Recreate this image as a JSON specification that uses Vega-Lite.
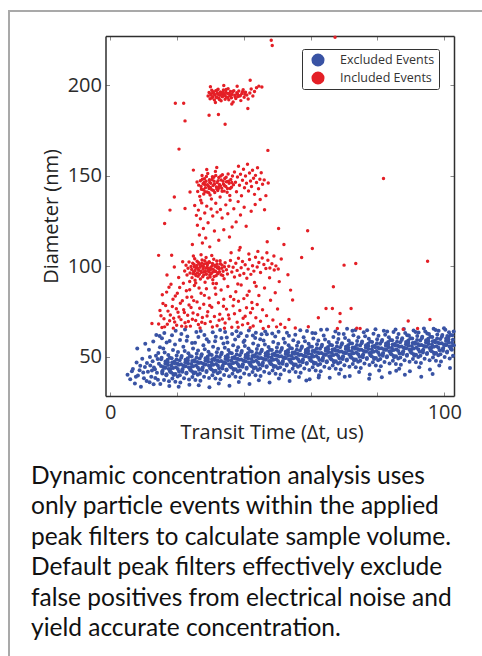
{
"$schema":"https://vega.github.io/schema/vega-lite/v6.json",
"width":480,"height":650,
"autosize":"none",
"padding":{"left":9,"top":11,"right":0,"bottom":0},
"background":"white",
"config":{
"view":{"stroke":"#a9a9a9","strokeWidth":2,"fill":"white"},
"font":"Open Sans",
"axis":{"grid":false,"domainColor":"#2e2e2e","domainWidth":1.5,"tickColor":"#8a8a8a","tickWidth":1,"tickSize":-4,"labelFont":"Open Sans","labelFontSize":20,"labelColor":"#2b2b2b","titleFont":"Open Sans","titleFontSize":20,"titleFontWeight":"normal","titleColor":"#222222","labelFlush":false,"labelOverlap":false}
},
"title":{"text":["Dynamic concentration analysis uses","only particle events within the applied","peak filters to calculate sample volume.","Default peak filters effectively exclude","false positives from electrical noise and","yield accurate concentration."],"orient":"bottom","anchor":"start","frame":"group","font":"Lato","fontSize":24.5,"fontWeight":"normal","color":"#111111","lineHeight":30.4,"offset":0,"dx":22,"dy":-196},
"datasets":{
"excluded":[
{"t":5.2,"d":40.1},{"t":6.0,"d":37.5},{"t":6.5,"d":42.0},{"t":6.8,"d":43.2},{"t":7.4,"d":35.2},{"t":7.7,"d":38.9},{"t":7.9,"d":46.8},{"t":8.1,"d":54.6},{"t":8.3,"d":39.6},{"t":8.8,"d":42.5},{"t":9.0,"d":45.0},{"t":9.2,"d":33.4},{"t":9.6,"d":48.9},{"t":9.9,"d":41.3},{"t":10.1,"d":38.1},{"t":10.4,"d":44.3},{"t":10.5,"d":57.1},{"t":10.9,"d":36.6},{"t":11.0,"d":46.5},{"t":11.3,"d":41.7},{"t":11.6,"d":53.8},{"t":11.8,"d":35.9},{"t":11.9,"d":49.8},{"t":12.0,"d":45.2},{"t":12.3,"d":39.0},{"t":12.5,"d":42.4},{"t":12.7,"d":47.5},{"t":12.9,"d":58.4},{"t":13.0,"d":34.8},{"t":13.1,"d":44.0},{"t":13.4,"d":43.1},{"t":13.5,"d":38.2},{"t":13.7,"d":50.6},{"t":13.8,"d":62.0},{"t":14.0,"d":41.2},{"t":14.2,"d":48.7},{"t":14.3,"d":37.3},{"t":14.4,"d":52.0},{"t":14.6,"d":46.1},{"t":14.8,"d":61.4},{"t":14.9,"d":55.2},
{"t":15.4,"d":49.5},{"t":15.7,"d":42.3},{"t":15.0,"d":34.9},{"t":15.2,"d":44.9},{"t":15.9,"d":54.6},{"t":15.6,"d":40.8},{"t":15.5,"d":60.2},
{"t":16.8,"d":39.8},{"t":16.3,"d":52.3},{"t":16.5,"d":46.1},{"t":16.1,"d":37.2},{"t":16.6,"d":43.9},{"t":16.9,"d":57.9},{"t":16.2,"d":63.1},
{"t":17.3,"d":45.4},{"t":17.9,"d":41.9},{"t":17.2,"d":48.3},{"t":17.6,"d":36.5},{"t":17.4,"d":51.0},{"t":17.7,"d":33.8},{"t":17.8,"d":58.7},
{"t":18.1,"d":43.2},{"t":18.4,"d":49.2},{"t":18.6,"d":37.9},{"t":18.8,"d":53.7},{"t":18.3,"d":45.1},{"t":18.9,"d":40.5},{"t":18.5,"d":61.8},
{"t":19.2,"d":47.2},{"t":19.5,"d":36.2},{"t":19.9,"d":50.7},{"t":19.7,"d":44.2},{"t":19.0,"d":39.9},{"t":19.4,"d":56.8},{"t":19.6,"d":64.4},
{"t":20.6,"d":41.9},{"t":20.1,"d":46.2},{"t":20.3,"d":52.6},{"t":20.5,"d":33.4},{"t":20.8,"d":48.1},{"t":20.2,"d":39.1},{"t":20.9,"d":59.3},
{"t":21.4,"d":50.4},{"t":21.7,"d":43.2},{"t":21.0,"d":35.8},{"t":21.2,"d":45.8},{"t":21.9,"d":55.5},{"t":21.6,"d":41.7},{"t":21.3,"d":62.5},
{"t":22.8,"d":40.7},{"t":22.3,"d":53.2},{"t":22.5,"d":47.0},{"t":22.1,"d":38.1},{"t":22.6,"d":44.8},{"t":22.9,"d":58.8},{"t":22.4,"d":65.0},
{"t":23.3,"d":46.3},{"t":23.9,"d":42.8},{"t":23.2,"d":49.2},{"t":23.6,"d":37.4},{"t":23.4,"d":51.9},{"t":23.7,"d":34.5},{"t":23.1,"d":61.2},
{"t":24.1,"d":44.1},{"t":24.4,"d":50.1},{"t":24.6,"d":38.8},{"t":24.8,"d":54.6},{"t":24.3,"d":46.0},{"t":24.9,"d":41.4},{"t":24.5,"d":57.6},
{"t":25.2,"d":48.1},{"t":25.5,"d":37.1},{"t":25.9,"d":51.6},{"t":25.7,"d":45.1},{"t":25.0,"d":40.8},{"t":25.4,"d":57.7},{"t":25.8,"d":63.6},
{"t":26.6,"d":42.8},{"t":26.1,"d":47.1},{"t":26.3,"d":53.5},{"t":26.5,"d":34.3},{"t":26.8,"d":49.0},{"t":26.2,"d":40.0},{"t":26.4,"d":60.9},
{"t":27.4,"d":51.3},{"t":27.7,"d":44.1},{"t":27.0,"d":36.7},{"t":27.2,"d":46.7},{"t":27.9,"d":56.4},{"t":27.6,"d":42.6},{"t":27.1,"d":64.2},
{"t":28.8,"d":41.6},{"t":28.3,"d":54.1},{"t":28.5,"d":47.9},{"t":28.1,"d":39.0},{"t":28.6,"d":45.7},{"t":28.9,"d":59.7},{"t":28.2,"d":62.0},
{"t":29.3,"d":47.2},{"t":29.9,"d":43.7},{"t":29.2,"d":50.1},{"t":29.6,"d":38.3},{"t":29.4,"d":52.8},{"t":29.7,"d":33.1},{"t":29.5,"d":58.3},
{"t":30.1,"d":45.0},{"t":30.4,"d":51.0},{"t":30.6,"d":39.7},{"t":30.8,"d":55.5},{"t":30.3,"d":46.9},{"t":30.9,"d":42.3},{"t":30.7,"d":63.5},
{"t":31.2,"d":49.0},{"t":31.5,"d":38.0},{"t":31.9,"d":52.5},{"t":31.7,"d":46.0},{"t":31.0,"d":41.7},{"t":31.4,"d":58.6},{"t":31.6,"d":61.1},
{"t":32.6,"d":43.7},{"t":32.1,"d":48.0},{"t":32.3,"d":54.4},{"t":32.5,"d":35.2},{"t":32.8,"d":49.9},{"t":32.2,"d":40.9},{"t":32.9,"d":64.8},
{"t":33.4,"d":52.2},{"t":33.7,"d":45.0},{"t":33.0,"d":37.6},{"t":33.2,"d":47.6},{"t":33.9,"d":57.3},{"t":33.6,"d":43.5},{"t":33.3,"d":60.4},
{"t":34.8,"d":42.5},{"t":34.3,"d":55.0},{"t":34.5,"d":48.8},{"t":34.1,"d":39.9},{"t":34.6,"d":46.6},{"t":34.9,"d":60.6},{"t":34.4,"d":63.7},
{"t":35.3,"d":48.1},{"t":35.9,"d":44.6},{"t":35.2,"d":51.0},{"t":35.6,"d":39.2},{"t":35.4,"d":53.7},{"t":35.7,"d":34.0},{"t":35.1,"d":57.9},
{"t":36.1,"d":45.9},{"t":36.4,"d":51.9},{"t":36.6,"d":40.6},{"t":36.8,"d":56.4},{"t":36.3,"d":47.8},{"t":36.9,"d":43.2},{"t":36.5,"d":62.6},
{"t":37.2,"d":49.9},{"t":37.5,"d":38.9},{"t":37.9,"d":53.4},{"t":37.7,"d":46.9},{"t":37.0,"d":42.6},{"t":37.4,"d":59.5},{"t":37.8,"d":64.1},
{"t":38.6,"d":44.6},{"t":38.1,"d":48.9},{"t":38.3,"d":55.3},{"t":38.5,"d":36.1},{"t":38.8,"d":50.8},{"t":38.2,"d":41.8},{"t":38.4,"d":61.3},
{"t":39.4,"d":53.1},{"t":39.7,"d":45.9},{"t":39.0,"d":38.5},{"t":39.2,"d":48.5},{"t":39.9,"d":58.2},{"t":39.6,"d":44.4},{"t":39.1,"d":63.0},
{"t":40.8,"d":43.4},{"t":40.3,"d":55.9},{"t":40.5,"d":49.7},{"t":40.1,"d":40.8},{"t":40.6,"d":47.5},{"t":40.9,"d":61.5},{"t":40.2,"d":58.9},
{"t":41.3,"d":49.0},{"t":41.9,"d":45.5},{"t":41.2,"d":51.9},{"t":41.6,"d":40.1},{"t":41.4,"d":54.6},{"t":41.7,"d":34.9},{"t":41.5,"d":64.5},
{"t":42.1,"d":46.8},{"t":42.4,"d":52.8},{"t":42.6,"d":41.5},{"t":42.8,"d":57.3},{"t":42.3,"d":48.7},{"t":42.9,"d":44.1},{"t":42.7,"d":61.7},
{"t":43.2,"d":50.8},{"t":43.5,"d":39.8},{"t":43.9,"d":54.3},{"t":43.7,"d":47.8},{"t":43.0,"d":43.5},{"t":43.4,"d":60.4},{"t":43.6,"d":63.2},
{"t":44.6,"d":45.5},{"t":44.1,"d":49.8},{"t":44.3,"d":56.2},{"t":44.5,"d":37.0},{"t":44.8,"d":51.7},{"t":44.2,"d":42.7},{"t":44.9,"d":59.6},
{"t":45.4,"d":53.9},{"t":45.7,"d":46.7},{"t":45.0,"d":39.3},{"t":45.2,"d":49.3},{"t":45.9,"d":59.0},{"t":45.6,"d":45.2},{"t":45.3,"d":62.4},
{"t":46.8,"d":44.3},{"t":46.3,"d":56.8},{"t":46.5,"d":50.6},{"t":46.1,"d":41.7},{"t":46.6,"d":48.4},{"t":46.9,"d":62.4},{"t":46.4,"d":64.0},
{"t":47.3,"d":49.8},{"t":47.9,"d":46.3},{"t":47.2,"d":52.7},{"t":47.6,"d":40.9},{"t":47.4,"d":55.4},{"t":47.7,"d":35.7},
{"t":48.1,"d":47.7},{"t":48.4,"d":53.7},{"t":48.6,"d":42.4},{"t":48.8,"d":58.2},{"t":48.3,"d":49.6},{"t":48.9,"d":45.0},{"t":48.5,"d":62.9},
{"t":49.2,"d":51.6},{"t":49.5,"d":40.6},{"t":49.9,"d":55.1},{"t":49.7,"d":48.6},{"t":49.0,"d":44.3},{"t":49.4,"d":61.2},
{"t":50.6,"d":46.4},{"t":50.1,"d":50.7},{"t":50.3,"d":57.1},{"t":50.5,"d":37.9},{"t":50.8,"d":52.6},{"t":50.2,"d":43.6},{"t":50.4,"d":63.8},
{"t":51.4,"d":54.8},{"t":51.7,"d":47.6},{"t":51.0,"d":40.2},{"t":51.2,"d":50.2},{"t":51.9,"d":59.9},{"t":51.6,"d":46.1},
{"t":52.8,"d":45.2},{"t":52.3,"d":57.7},{"t":52.5,"d":51.5},{"t":52.1,"d":42.6},{"t":52.6,"d":49.3},{"t":52.9,"d":63.3},
{"t":53.3,"d":50.7},{"t":53.9,"d":47.2},{"t":53.2,"d":53.6},{"t":53.6,"d":41.8},{"t":53.4,"d":56.3},{"t":53.7,"d":36.6},{"t":53.5,"d":61.6},
{"t":54.1,"d":48.6},{"t":54.4,"d":54.6},{"t":54.6,"d":43.3},{"t":54.8,"d":59.1},{"t":54.3,"d":50.5},{"t":54.9,"d":45.9},
{"t":55.2,"d":52.5},{"t":55.5,"d":41.5},{"t":55.9,"d":56.0},{"t":55.7,"d":49.5},{"t":55.0,"d":45.2},{"t":55.4,"d":62.1},
{"t":56.6,"d":47.3},{"t":56.1,"d":51.6},{"t":56.3,"d":58.0},{"t":56.5,"d":38.8},{"t":56.8,"d":53.5},{"t":56.2,"d":44.5},{"t":56.9,"d":64.6},
{"t":57.4,"d":55.7},{"t":57.7,"d":48.5},{"t":57.0,"d":41.1},{"t":57.2,"d":51.1},{"t":57.9,"d":60.8},{"t":57.6,"d":47.0},
{"t":58.8,"d":46.1},{"t":58.3,"d":58.6},{"t":58.5,"d":52.4},{"t":58.1,"d":43.5},{"t":58.6,"d":50.2},{"t":58.9,"d":64.2},{"t":58.7,"d":36.9},
{"t":59.3,"d":51.6},{"t":59.9,"d":48.1},{"t":59.2,"d":54.5},{"t":59.6,"d":42.7},{"t":59.4,"d":57.2},{"t":59.7,"d":37.5},
{"t":60.1,"d":49.5},{"t":60.4,"d":55.5},{"t":60.6,"d":44.2},{"t":60.8,"d":60.0},{"t":60.3,"d":51.4},{"t":60.9,"d":46.8},{"t":60.5,"d":63.1},
{"t":61.2,"d":53.4},{"t":61.5,"d":42.4},{"t":61.9,"d":56.9},{"t":61.7,"d":50.4},{"t":61.0,"d":46.1},{"t":61.4,"d":63.0},
{"t":62.6,"d":48.2},{"t":62.1,"d":52.5},{"t":62.3,"d":58.9},{"t":62.5,"d":39.7},{"t":62.8,"d":54.4},{"t":62.2,"d":45.4},{"t":62.4,"d":38.5},
{"t":63.4,"d":56.6},{"t":63.7,"d":49.4},{"t":63.0,"d":42.0},{"t":63.2,"d":52.0},{"t":63.9,"d":61.7},{"t":63.6,"d":47.9},{"t":63.1,"d":64.9},
{"t":64.8,"d":47.0},{"t":64.3,"d":59.5},{"t":64.5,"d":53.3},{"t":64.1,"d":44.4},{"t":64.6,"d":51.1},{"t":64.9,"d":65.1},
{"t":65.3,"d":52.5},{"t":65.9,"d":49.0},{"t":65.2,"d":55.4},{"t":65.6,"d":43.6},{"t":65.4,"d":58.1},{"t":65.7,"d":38.4},
{"t":66.1,"d":50.4},{"t":66.4,"d":56.4},{"t":66.6,"d":45.1},{"t":66.8,"d":60.9},{"t":66.3,"d":52.3},{"t":66.9,"d":47.7},
{"t":67.2,"d":54.3},{"t":67.5,"d":43.3},{"t":67.9,"d":57.8},{"t":67.7,"d":51.3},{"t":67.0,"d":47.0},{"t":67.4,"d":63.9},
{"t":68.6,"d":49.1},{"t":68.1,"d":53.4},{"t":68.3,"d":59.8},{"t":68.5,"d":40.6},{"t":68.8,"d":55.3},{"t":68.2,"d":46.3},{"t":68.4,"d":62.7},
{"t":69.4,"d":57.5},{"t":69.7,"d":50.3},{"t":69.0,"d":42.9},{"t":69.2,"d":52.9},{"t":69.9,"d":62.6},{"t":69.6,"d":48.8},
{"t":70.8,"d":47.9},{"t":70.3,"d":60.4},{"t":70.5,"d":54.2},{"t":70.1,"d":45.3},{"t":70.6,"d":52.0},{"t":70.9,"d":65.4},{"t":70.2,"d":39.0},
{"t":71.3,"d":53.4},{"t":71.9,"d":49.9},{"t":71.2,"d":56.3},{"t":71.6,"d":44.5},{"t":71.4,"d":59.0},{"t":71.7,"d":39.3},
{"t":72.1,"d":51.3},{"t":72.4,"d":57.3},{"t":72.6,"d":46.0},{"t":72.8,"d":61.8},{"t":72.3,"d":53.2},{"t":72.9,"d":48.6},{"t":72.5,"d":64.3},
{"t":73.2,"d":55.2},{"t":73.5,"d":44.2},{"t":73.9,"d":58.7},{"t":73.7,"d":52.2},{"t":73.0,"d":47.9},{"t":73.4,"d":64.8},
{"t":74.6,"d":50.0},{"t":74.1,"d":54.3},{"t":74.3,"d":60.7},{"t":74.5,"d":41.5},{"t":74.8,"d":56.2},{"t":74.2,"d":47.2},
{"t":75.4,"d":58.4},{"t":75.7,"d":51.2},{"t":75.0,"d":43.8},{"t":75.2,"d":53.8},{"t":75.9,"d":63.5},{"t":75.6,"d":49.7},
{"t":76.8,"d":48.8},{"t":76.3,"d":61.3},{"t":76.5,"d":55.1},{"t":76.1,"d":46.2},{"t":76.6,"d":52.9},{"t":76.9,"d":64.6},
{"t":77.3,"d":54.3},{"t":77.9,"d":50.8},{"t":77.2,"d":57.2},{"t":77.6,"d":45.4},{"t":77.4,"d":59.9},{"t":77.7,"d":40.2},{"t":77.5,"d":37.8},
{"t":78.1,"d":52.2},{"t":78.4,"d":58.2},{"t":78.6,"d":46.9},{"t":78.8,"d":62.7},{"t":78.3,"d":54.1},{"t":78.9,"d":49.5},
{"t":79.2,"d":56.1},{"t":79.5,"d":45.1},{"t":79.9,"d":59.6},{"t":79.7,"d":53.1},{"t":79.0,"d":48.8},{"t":79.4,"d":65.2},
{"t":80.6,"d":50.9},{"t":80.1,"d":55.2},{"t":80.3,"d":61.6},{"t":80.5,"d":42.4},{"t":80.8,"d":57.1},{"t":80.2,"d":48.1},
{"t":81.4,"d":59.3},{"t":81.7,"d":52.1},{"t":81.0,"d":44.7},{"t":81.2,"d":54.7},{"t":81.9,"d":64.4},{"t":81.6,"d":50.6},{"t":81.3,"d":38.6},
{"t":82.8,"d":49.7},{"t":82.3,"d":62.2},{"t":82.5,"d":56.0},{"t":82.1,"d":47.1},{"t":82.6,"d":53.8},{"t":82.9,"d":63.9},
{"t":83.3,"d":55.2},{"t":83.9,"d":51.7},{"t":83.2,"d":58.1},{"t":83.6,"d":46.3},{"t":83.4,"d":60.8},{"t":83.7,"d":41.1},
{"t":84.1,"d":53.1},{"t":84.4,"d":59.1},{"t":84.6,"d":47.8},{"t":84.8,"d":63.6},{"t":84.3,"d":55.0},{"t":84.9,"d":50.4},
{"t":85.2,"d":57.0},{"t":85.5,"d":46.0},{"t":85.9,"d":60.5},{"t":85.7,"d":54.0},{"t":85.0,"d":49.7},{"t":85.4,"d":65.0},{"t":85.6,"d":42.3},
{"t":86.6,"d":51.8},{"t":86.1,"d":56.1},{"t":86.3,"d":62.5},{"t":86.5,"d":43.3},{"t":86.8,"d":58.0},{"t":86.2,"d":49.0},
{"t":87.4,"d":60.2},{"t":87.7,"d":53.0},{"t":87.0,"d":45.6},{"t":87.2,"d":55.6},{"t":87.9,"d":65.3},{"t":87.6,"d":51.5},
{"t":88.8,"d":50.6},{"t":88.3,"d":63.1},{"t":88.5,"d":56.9},{"t":88.1,"d":48.0},{"t":88.6,"d":54.7},{"t":88.9,"d":61.9},{"t":88.2,"d":40.1},
{"t":89.3,"d":56.1},{"t":89.9,"d":52.6},{"t":89.2,"d":59.0},{"t":89.6,"d":47.2},{"t":89.4,"d":61.7},{"t":89.7,"d":42.0},
{"t":90.1,"d":54.0},{"t":90.4,"d":60.0},{"t":90.6,"d":48.7},{"t":90.8,"d":64.5},{"t":90.3,"d":55.9},{"t":90.9,"d":51.3},
{"t":91.2,"d":57.9},{"t":91.5,"d":46.9},{"t":91.9,"d":61.4},{"t":91.7,"d":54.9},{"t":91.0,"d":50.6},{"t":91.4,"d":63.6},
{"t":92.6,"d":52.7},{"t":92.1,"d":57.0},{"t":92.3,"d":63.4},{"t":92.5,"d":44.2},{"t":92.8,"d":58.9},{"t":92.2,"d":49.9},
{"t":93.4,"d":61.1},{"t":93.7,"d":53.9},{"t":93.0,"d":46.5},{"t":93.2,"d":56.5},{"t":93.9,"d":65.6},{"t":93.6,"d":52.4},{"t":93.1,"d":38.9},
{"t":94.8,"d":51.5},{"t":94.3,"d":64.0},{"t":94.5,"d":57.8},{"t":94.1,"d":48.9},{"t":94.6,"d":55.6},{"t":94.9,"d":62.8},
{"t":95.3,"d":57.0},{"t":95.9,"d":53.5},{"t":95.2,"d":59.9},{"t":95.6,"d":48.1},{"t":95.4,"d":62.6},{"t":95.7,"d":42.9},
{"t":96.1,"d":54.9},{"t":96.4,"d":60.9},{"t":96.6,"d":49.6},{"t":96.8,"d":65.4},{"t":96.3,"d":56.8},{"t":96.9,"d":52.2},{"t":96.5,"d":40.4},
{"t":97.2,"d":58.8},{"t":97.5,"d":47.8},{"t":97.9,"d":62.3},{"t":97.7,"d":55.8},{"t":97.0,"d":51.5},{"t":97.4,"d":64.7},
{"t":98.6,"d":53.6},{"t":98.1,"d":57.9},{"t":98.3,"d":64.3},{"t":98.5,"d":45.1},{"t":98.8,"d":59.8},{"t":98.2,"d":50.8},
{"t":99.4,"d":62.0},{"t":99.7,"d":54.8},{"t":99.0,"d":47.4},{"t":99.2,"d":57.4},{"t":99.9,"d":65.8},{"t":99.6,"d":53.3},
{"t":100.8,"d":52.4},{"t":100.3,"d":64.9},{"t":100.5,"d":58.7},{"t":100.1,"d":49.8},{"t":100.6,"d":56.5},{"t":100.9,"d":61.5},
{"t":101.3,"d":57.9},{"t":101.9,"d":54.4},{"t":101.2,"d":60.8},{"t":101.6,"d":49.0},{"t":101.4,"d":63.5},{"t":101.7,"d":43.8},
{"t":102.1,"d":55.8},{"t":102.4,"d":61.8},{"t":102.6,"d":50.5},{"t":102.8,"d":64.0},{"t":102.3,"d":57.7},
{"t":15.25,"d":48.6},{"t":15.55,"d":41.7},{"t":15.85,"d":44.3},{"t":16.25,"d":43.9},{"t":16.55,"d":47.4},{"t":16.85,"d":40.3},{"t":17.25,"d":47.0},{"t":17.55,"d":43.2},{"t":17.85,"d":49.5},{"t":18.25,"d":41.3},{"t":18.55,"d":46.8},{"t":18.85,"d":43.8},{"t":19.25,"d":46.4},{"t":19.55,"d":40.4},{"t":19.85,"d":48.5},{"t":20.25,"d":43.2},{"t":20.55,"d":45.6},{"t":20.85,"d":39.7},{"t":21.25,"d":49.5},{"t":21.55,"d":42.6},{"t":21.85,"d":45.2},{"t":22.25,"d":44.8},{"t":22.55,"d":48.3},{"t":22.85,"d":41.2},{"t":23.25,"d":47.9},{"t":23.55,"d":44.1},{"t":23.85,"d":50.4},{"t":24.25,"d":42.2},{"t":24.55,"d":47.7},{"t":24.85,"d":44.7},{"t":25.25,"d":47.3},{"t":25.55,"d":41.3},{"t":25.85,"d":49.4},{"t":26.25,"d":44.1},{"t":26.55,"d":46.5},{"t":26.85,"d":40.6},{"t":27.25,"d":50.4},{"t":27.55,"d":43.5},{"t":27.85,"d":46.1},{"t":28.25,"d":45.7},{"t":28.55,"d":49.2},{"t":28.85,"d":42.1},{"t":29.25,"d":48.8},{"t":29.55,"d":45.0},{"t":29.85,"d":51.3},{"t":30.25,"d":43.1},{"t":30.55,"d":48.6},{"t":30.85,"d":45.6},{"t":31.25,"d":48.2},{"t":31.55,"d":42.2},{"t":31.85,"d":50.3},{"t":32.25,"d":45.0},{"t":32.55,"d":47.4},{"t":32.85,"d":41.5},{"t":33.25,"d":51.3},{"t":33.55,"d":44.4},{"t":33.85,"d":47.0},{"t":34.25,"d":46.6},{"t":34.55,"d":50.1},{"t":34.85,"d":43.0},{"t":35.25,"d":49.7},{"t":35.55,"d":45.9},{"t":35.85,"d":52.2},{"t":36.25,"d":44.0},{"t":36.55,"d":49.5},{"t":36.85,"d":46.5},{"t":37.25,"d":49.1},{"t":37.55,"d":43.1},{"t":37.85,"d":51.2},{"t":38.25,"d":45.9},{"t":38.55,"d":48.3},{"t":38.85,"d":42.4},{"t":39.25,"d":52.2},{"t":39.55,"d":45.3},{"t":39.85,"d":47.9},{"t":40.25,"d":47.5},{"t":40.55,"d":51.0},{"t":40.85,"d":43.9},{"t":41.25,"d":50.6},{"t":41.55,"d":46.8},{"t":41.85,"d":53.1},{"t":42.25,"d":44.9},{"t":42.55,"d":50.4},{"t":42.85,"d":47.4},{"t":43.25,"d":50.0},{"t":43.55,"d":44.0},{"t":43.85,"d":52.1},{"t":44.25,"d":46.8},{"t":44.55,"d":49.2},{"t":44.85,"d":43.3},{"t":45.25,"d":53.0},{"t":45.55,"d":46.1},{"t":45.85,"d":48.7},{"t":46.25,"d":48.4},{"t":46.55,"d":51.9},{"t":46.85,"d":44.8},{"t":47.25,"d":51.4},{"t":47.55,"d":47.6},{"t":47.85,"d":53.9},{"t":48.25,"d":45.8},{"t":48.55,"d":51.3},{"t":48.85,"d":48.3},{"t":49.25,"d":50.8},{"t":49.55,"d":44.8},{"t":49.85,"d":52.9},{"t":50.25,"d":47.7},{"t":50.55,"d":50.1},{"t":50.85,"d":44.2},{"t":51.25,"d":53.9},{"t":51.55,"d":47.0},{"t":51.85,"d":49.6},{"t":52.25,"d":49.3},{"t":52.55,"d":52.8},{"t":52.85,"d":45.7},{"t":53.25,"d":52.3},{"t":53.55,"d":48.5},{"t":53.85,"d":54.8},{"t":54.25,"d":46.7},{"t":54.55,"d":52.2},{"t":54.85,"d":49.2},{"t":55.25,"d":51.7},{"t":55.55,"d":45.7},{"t":55.85,"d":53.8},{"t":56.25,"d":48.6},{"t":56.55,"d":51.0},{"t":56.85,"d":45.1},{"t":57.25,"d":54.8},{"t":57.55,"d":47.9},{"t":57.85,"d":50.5},{"t":58.25,"d":50.2},{"t":58.55,"d":53.7},{"t":58.85,"d":46.6},{"t":59.25,"d":53.2},{"t":59.55,"d":49.4},{"t":59.85,"d":55.7},{"t":60.25,"d":47.6},{"t":60.55,"d":53.1},{"t":60.85,"d":50.1},{"t":61.25,"d":52.6},{"t":61.55,"d":46.6},{"t":61.85,"d":54.7},{"t":62.25,"d":49.5},{"t":62.55,"d":51.9},{"t":62.85,"d":46.0},{"t":63.25,"d":55.7},{"t":63.55,"d":48.8},{"t":63.85,"d":51.4},{"t":64.25,"d":51.1},{"t":64.55,"d":54.6},{"t":64.85,"d":47.5},{"t":65.25,"d":54.1},{"t":65.55,"d":50.3},{"t":65.85,"d":56.6},{"t":66.25,"d":48.5},{"t":66.55,"d":54.0},{"t":66.85,"d":51.0},{"t":67.25,"d":53.5},{"t":67.55,"d":47.5},{"t":67.85,"d":55.6},{"t":68.25,"d":50.4},{"t":68.55,"d":52.8},{"t":68.85,"d":46.9},{"t":69.25,"d":56.6},{"t":69.55,"d":49.7},{"t":69.85,"d":52.3},{"t":70.25,"d":52.0},{"t":70.55,"d":55.5},{"t":70.85,"d":48.4},{"t":71.25,"d":55.0},{"t":71.55,"d":51.2},{"t":71.85,"d":57.5},{"t":72.25,"d":49.4},{"t":72.55,"d":54.9},{"t":72.85,"d":51.9},{"t":73.25,"d":54.4},{"t":73.55,"d":48.4},{"t":73.85,"d":56.5},{"t":74.25,"d":51.3},{"t":74.55,"d":53.7},{"t":74.85,"d":47.8},{"t":75.25,"d":57.5},{"t":75.55,"d":50.6},{"t":75.85,"d":53.2},{"t":76.25,"d":52.9},{"t":76.55,"d":56.4},{"t":76.85,"d":49.3},{"t":77.25,"d":55.9},{"t":77.55,"d":52.1},{"t":77.85,"d":58.4},{"t":78.25,"d":50.3},{"t":78.55,"d":55.8},{"t":78.85,"d":52.8},{"t":79.25,"d":55.3},{"t":79.55,"d":49.3},{"t":79.85,"d":57.4},{"t":80.25,"d":52.2},{"t":80.55,"d":54.6},{"t":80.85,"d":48.7},{"t":81.25,"d":58.4},{"t":81.55,"d":51.5},{"t":81.85,"d":54.1},{"t":82.25,"d":53.8},{"t":82.55,"d":57.3},{"t":82.85,"d":50.2},{"t":83.25,"d":56.8},{"t":83.55,"d":53.0},{"t":83.85,"d":59.3},{"t":84.25,"d":51.2},{"t":84.55,"d":56.7},{"t":84.85,"d":53.7},{"t":85.25,"d":56.2},{"t":85.55,"d":50.2},{"t":85.85,"d":58.3},{"t":86.25,"d":53.1},{"t":86.55,"d":55.5},{"t":86.85,"d":49.6},{"t":87.25,"d":59.3},{"t":87.55,"d":52.4},{"t":87.85,"d":55.0},{"t":88.25,"d":54.7},{"t":88.55,"d":58.2},{"t":88.85,"d":51.1},{"t":89.25,"d":57.7},{"t":89.55,"d":53.9},{"t":89.85,"d":60.2},{"t":90.25,"d":52.1},{"t":90.55,"d":57.6},{"t":90.85,"d":54.6},{"t":91.25,"d":57.1},{"t":91.55,"d":51.1},{"t":91.85,"d":59.2},{"t":92.25,"d":54.0},{"t":92.55,"d":56.4},{"t":92.85,"d":50.5},{"t":93.25,"d":60.2},{"t":93.55,"d":53.3},{"t":93.85,"d":55.9},{"t":94.25,"d":55.6},{"t":94.55,"d":59.1},{"t":94.85,"d":52.0},{"t":95.25,"d":58.6},{"t":95.55,"d":54.8},{"t":95.85,"d":61.1},{"t":96.25,"d":53.0},{"t":96.55,"d":58.5},{"t":96.85,"d":55.5},{"t":97.25,"d":58.0},{"t":97.55,"d":52.0},{"t":97.85,"d":60.1},{"t":98.25,"d":54.9},{"t":98.55,"d":57.3},{"t":98.85,"d":51.4},{"t":99.25,"d":61.1},{"t":99.55,"d":54.2},{"t":99.85,"d":56.8},{"t":100.25,"d":56.5},{"t":100.55,"d":60.0},{"t":100.85,"d":52.9},{"t":101.25,"d":59.5},{"t":101.55,"d":55.7},{"t":101.85,"d":62.0},{"t":102.25,"d":53.9},{"t":102.55,"d":59.4},{"t":102.85,"d":56.4}
],
"included":[
{"t":29.3,"d":194.1},{"t":29.6,"d":196.0},{"t":29.9,"d":192.5},{"t":30.2,"d":195.3},{"t":30.4,"d":197.2},{"t":30.7,"d":193.6},{"t":30.9,"d":195.8},{"t":31.2,"d":191.9},{"t":31.4,"d":194.7},{"t":31.6,"d":196.9},{"t":31.9,"d":193.2},{"t":32.1,"d":195.6},{"t":32.3,"d":197.8},{"t":32.5,"d":192.8},{"t":32.8,"d":194.4},{"t":33.0,"d":196.3},{"t":33.2,"d":191.4},{"t":33.4,"d":195.1},{"t":33.7,"d":193.9},{"t":33.9,"d":197.4},{"t":34.1,"d":194.9},{"t":34.4,"d":192.3},{"t":34.6,"d":196.1},{"t":34.8,"d":193.5},{"t":35.1,"d":195.5},{"t":35.3,"d":198.1},{"t":35.5,"d":192.0},{"t":35.8,"d":194.2},{"t":36.0,"d":196.6},{"t":36.3,"d":193.1},{"t":36.5,"d":195.0},{"t":36.8,"d":190.7},{"t":37.0,"d":197.0},{"t":37.3,"d":194.5},{"t":37.6,"d":192.6},{"t":37.9,"d":195.9},{"t":38.2,"d":193.8},{"t":38.5,"d":196.8},{"t":38.8,"d":194.1},{"t":39.1,"d":191.5},{"t":39.4,"d":195.4},{"t":39.8,"d":197.5},{"t":40.1,"d":193.3},{"t":40.5,"d":196.2},{"t":40.9,"d":194.6},{"t":41.3,"d":192.4},{"t":41.8,"d":195.7},{"t":42.2,"d":197.9},{"t":42.7,"d":194.0},{"t":43.2,"d":196.5},{"t":43.8,"d":198.6},{"t":30.0,"d":199.2},{"t":31.5,"d":190.5},{"t":36.4,"d":189.6},{"t":38.0,"d":199.4},{"t":34.0,"d":199.8},{"t":44.5,"d":199.5},
{"t":30.1,"d":194.6},{"t":30.5,"d":192.9},{"t":30.8,"d":196.4},{"t":31.1,"d":195.0},{"t":31.7,"d":193.4},{"t":32.0,"d":197.2},{"t":32.4,"d":194.9},{"t":32.7,"d":192.1},{"t":33.1,"d":195.8},{"t":33.5,"d":193.6},{"t":33.8,"d":196.0},{"t":34.3,"d":194.3},{"t":34.7,"d":197.6},{"t":35.2,"d":193.2},{"t":35.6,"d":195.4},{"t":36.2,"d":194.7},{"t":36.7,"d":196.5},{"t":37.4,"d":193.7},{"t":38.1,"d":195.2},{"t":39.0,"d":194.4},{"t":39.6,"d":196.4},{"t":40.3,"d":195.0},
{"t":26.2,"d":141.3},{"t":26.5,"d":144.8},{"t":26.8,"d":138.6},{"t":27.0,"d":147.2},{"t":27.3,"d":142.5},{"t":27.5,"d":150.1},{"t":27.8,"d":145.6},{"t":28.0,"d":139.9},{"t":28.2,"d":148.3},{"t":28.5,"d":143.4},{"t":28.7,"d":146.9},{"t":29.0,"d":141.0},{"t":29.2,"d":151.2},{"t":29.4,"d":144.2},{"t":29.7,"d":147.8},{"t":29.9,"d":139.4},{"t":30.1,"d":145.9},{"t":30.4,"d":142.2},{"t":30.6,"d":149.5},{"t":30.8,"d":144.6},{"t":31.1,"d":147.0},{"t":31.3,"d":140.7},{"t":31.5,"d":152.4},{"t":31.8,"d":143.8},{"t":32.0,"d":146.3},{"t":32.2,"d":141.8},{"t":32.5,"d":149.0},{"t":32.7,"d":145.1},{"t":32.9,"d":138.2},{"t":33.2,"d":147.6},{"t":33.4,"d":143.1},{"t":33.6,"d":150.6},{"t":33.9,"d":145.4},{"t":34.1,"d":141.5},{"t":34.3,"d":148.5},{"t":34.6,"d":144.0},{"t":34.8,"d":146.7},{"t":35.1,"d":142.9},{"t":35.3,"d":151.0},{"t":35.6,"d":145.8},{"t":35.8,"d":139.1},{"t":36.1,"d":147.9},{"t":36.3,"d":143.6},{"t":36.6,"d":149.9},{"t":36.9,"d":145.0},{"t":27.1,"d":136.4},{"t":28.9,"d":153.5},{"t":30.3,"d":137.2},{"t":31.9,"d":154.6},{"t":26.0,"d":146.5},{"t":29.6,"d":143.0},{"t":31.0,"d":149.1},{"t":33.0,"d":144.4},{"t":28.3,"d":145.1},{"t":32.4,"d":142.9},
{"t":27.2,"d":144.0},{"t":27.6,"d":148.0},{"t":27.9,"d":142.3},{"t":28.1,"d":146.2},{"t":28.4,"d":141.1},{"t":28.8,"d":149.6},{"t":29.1,"d":145.0},{"t":29.5,"d":140.6},{"t":29.8,"d":146.4},{"t":30.0,"d":143.5},{"t":30.5,"d":147.9},{"t":30.9,"d":141.9},{"t":31.2,"d":145.3},{"t":31.6,"d":150.1},{"t":31.9,"d":142.6},{"t":32.3,"d":147.3},{"t":32.6,"d":143.9},{"t":33.1,"d":149.8},{"t":33.5,"d":141.4},{"t":33.8,"d":146.9},{"t":34.2,"d":144.6},{"t":34.7,"d":149.2},{"t":35.0,"d":140.9},{"t":35.4,"d":147.0},{"t":35.9,"d":143.0},{"t":36.4,"d":146.3},
{"t":37.2,"d":152.1},{"t":37.5,"d":146.4},{"t":37.8,"d":141.2},{"t":38.1,"d":149.3},{"t":38.4,"d":155.2},{"t":38.7,"d":144.7},{"t":39.0,"d":150.8},{"t":39.3,"d":138.9},{"t":39.6,"d":147.5},{"t":39.9,"d":153.6},{"t":40.2,"d":143.3},{"t":40.5,"d":149.9},{"t":40.8,"d":145.9},{"t":41.1,"d":156.3},{"t":41.4,"d":141.6},{"t":41.7,"d":151.5},{"t":42.0,"d":147.1},{"t":42.3,"d":144.0},{"t":42.6,"d":153.0},{"t":42.9,"d":148.6},{"t":43.2,"d":139.7},{"t":43.5,"d":150.2},{"t":43.8,"d":146.2},{"t":44.1,"d":154.4},{"t":44.4,"d":142.8},{"t":44.8,"d":148.0},{"t":45.2,"d":151.7},{"t":45.6,"d":145.3},{"t":46.1,"d":147.7},{"t":46.6,"d":139.0},{"t":47.3,"d":146.0},
{"t":25.3,"d":133.5},{"t":25.8,"d":128.1},{"t":26.1,"d":122.6},{"t":26.4,"d":131.0},{"t":26.7,"d":117.3},{"t":27.0,"d":126.2},{"t":27.4,"d":135.0},{"t":27.6,"d":112.8},{"t":27.9,"d":120.9},{"t":28.3,"d":129.4},{"t":28.6,"d":115.6},{"t":28.9,"d":133.2},{"t":29.3,"d":124.0},{"t":29.8,"d":110.7},{"t":30.2,"d":131.6},{"t":30.7,"d":127.8},{"t":31.2,"d":119.5},{"t":31.6,"d":134.8},{"t":32.0,"d":129.9},{"t":32.5,"d":114.3},{"t":33.0,"d":131.3},{"t":33.5,"d":126.6},{"t":34.0,"d":120.2},{"t":34.6,"d":133.9},{"t":35.2,"d":129.0},{"t":35.9,"d":136.4},{"t":36.5,"d":121.7},{"t":37.0,"d":131.8},{"t":37.7,"d":124.5},{"t":38.3,"d":135.7},{"t":39.0,"d":128.3},{"t":40.1,"d":132.6},{"t":40.7,"d":122.1},{"t":42.2,"d":130.4},{"t":43.4,"d":134.1},{"t":44.9,"d":136.9},{"t":46.2,"d":131.2},{"t":47.0,"d":113.5},{"t":24.6,"d":112.0},{"t":35.7,"d":116.1},{"t":38.9,"d":110.4},
{"t":22.3,"d":97.4},{"t":22.7,"d":100.5},{"t":23.0,"d":95.1},{"t":23.3,"d":98.9},{"t":23.6,"d":102.3},{"t":23.9,"d":96.3},{"t":24.2,"d":99.8},{"t":24.5,"d":93.7},{"t":24.7,"d":101.6},{"t":25.0,"d":97.0},{"t":25.3,"d":104.1},{"t":25.5,"d":95.6},{"t":25.8,"d":99.2},{"t":26.0,"d":102.7},{"t":26.3,"d":94.4},{"t":26.5,"d":97.8},{"t":26.8,"d":100.9},{"t":27.0,"d":92.9},{"t":27.3,"d":96.6},{"t":27.5,"d":103.4},{"t":27.8,"d":98.3},{"t":28.0,"d":95.2},{"t":28.2,"d":101.3},{"t":28.5,"d":97.1},{"t":28.7,"d":104.8},{"t":29.0,"d":99.5},{"t":29.2,"d":93.5},{"t":29.5,"d":96.9},{"t":29.7,"d":102.0},{"t":30.0,"d":98.0},{"t":30.2,"d":95.9},{"t":30.5,"d":100.2},{"t":30.7,"d":92.5},{"t":31.0,"d":103.9},{"t":31.2,"d":97.5},{"t":31.5,"d":99.9},{"t":31.7,"d":94.8},{"t":32.0,"d":101.1},{"t":32.3,"d":96.4},{"t":32.6,"d":98.6},{"t":32.9,"d":103.0},{"t":33.2,"d":95.3},{"t":33.5,"d":100.6},{"t":33.8,"d":97.2},{"t":34.1,"d":93.1},{"t":34.4,"d":101.9},{"t":34.8,"d":98.1},{"t":35.1,"d":95.7},{"t":35.5,"d":100.0},{"t":36.0,"d":103.2},{"t":23.8,"d":91.6},{"t":25.6,"d":90.8},{"t":28.4,"d":91.2},{"t":31.8,"d":90.5},{"t":24.9,"d":105.6},{"t":27.2,"d":106.3},{"t":30.4,"d":105.9},{"t":29.4,"d":98.7},{"t":27.6,"d":100.1},{"t":26.1,"d":96.2},{"t":30.9,"d":97.0},{"t":28.9,"d":101.8},{"t":32.1,"d":99.0},{"t":25.2,"d":99.6},{"t":29.9,"d":94.1},
{"t":24.4,"d":98.2},{"t":24.8,"d":95.9},{"t":25.1,"d":101.0},{"t":25.4,"d":97.6},{"t":25.7,"d":94.8},{"t":25.9,"d":100.4},{"t":26.2,"d":98.7},{"t":26.4,"d":102.1},{"t":26.7,"d":95.5},{"t":26.9,"d":99.4},{"t":27.1,"d":97.3},{"t":27.4,"d":101.7},{"t":27.7,"d":94.2},{"t":27.9,"d":99.9},{"t":28.1,"d":96.8},{"t":28.3,"d":103.0},{"t":28.6,"d":98.9},{"t":28.8,"d":95.6},{"t":29.1,"d":100.8},{"t":29.3,"d":97.7},{"t":29.6,"d":102.5},{"t":29.8,"d":95.1},{"t":30.1,"d":99.3},{"t":30.3,"d":96.2},{"t":30.6,"d":101.5},{"t":30.8,"d":98.4},{"t":31.1,"d":94.3},{"t":31.3,"d":100.6},{"t":31.6,"d":97.1},{"t":31.9,"d":102.9},{"t":32.2,"d":95.8},{"t":32.4,"d":99.6},{"t":32.7,"d":97.0},{"t":33.0,"d":101.4},{"t":33.4,"d":98.9},{"t":33.7,"d":94.9},{"t":34.2,"d":99.7},
{"t":36.4,"d":96.8},{"t":36.8,"d":99.4},{"t":37.2,"d":94.0},{"t":37.6,"d":101.7},{"t":38.0,"d":97.7},{"t":38.4,"d":104.4},{"t":38.8,"d":95.0},{"t":39.2,"d":99.1},{"t":39.6,"d":102.6},{"t":40.0,"d":96.0},{"t":40.4,"d":100.8},{"t":40.9,"d":93.4},{"t":41.3,"d":98.4},{"t":41.7,"d":103.7},{"t":42.1,"d":95.5},{"t":42.6,"d":100.3},{"t":43.0,"d":97.3},{"t":43.5,"d":104.9},{"t":44.0,"d":99.6},{"t":44.5,"d":102.1},{"t":45.0,"d":96.5},{"t":45.5,"d":104.6},{"t":46.0,"d":100.9},{"t":46.6,"d":98.8},{"t":47.2,"d":103.3},{"t":47.8,"d":99.0},{"t":48.4,"d":101.4},{"t":49.1,"d":97.9},{"t":49.6,"d":100.2},{"t":50.3,"d":98.5},
{"t":14.5,"d":68.1},{"t":15.2,"d":72.6},{"t":15.8,"d":79.4},{"t":16.3,"d":66.5},{"t":16.9,"d":85.7},{"t":17.3,"d":75.2},{"t":17.8,"d":69.9},{"t":18.2,"d":90.1},{"t":18.6,"d":77.8},{"t":19.0,"d":71.3},{"t":19.5,"d":83.6},{"t":19.9,"d":67.4},{"t":20.3,"d":74.6},{"t":20.8,"d":88.2},{"t":21.2,"d":70.5},{"t":21.6,"d":80.9},{"t":22.0,"d":76.0},{"t":22.4,"d":68.8},{"t":22.8,"d":86.4},{"t":23.2,"d":72.9},{"t":23.6,"d":78.6},{"t":24.0,"d":66.9},{"t":24.4,"d":83.0},{"t":24.8,"d":74.1},{"t":25.2,"d":89.3},{"t":25.6,"d":70.0},{"t":26.0,"d":80.3},{"t":26.4,"d":67.8},{"t":26.8,"d":76.8},{"t":27.2,"d":85.1},{"t":27.6,"d":71.7},{"t":28.0,"d":79.0},{"t":28.4,"d":68.3},{"t":28.8,"d":87.6},{"t":29.2,"d":74.9},{"t":29.6,"d":82.4},{"t":30.0,"d":69.4},{"t":30.4,"d":77.3},{"t":30.8,"d":90.4},{"t":31.2,"d":72.2},{"t":31.6,"d":84.5},{"t":32.0,"d":67.1},{"t":32.4,"d":79.8},{"t":32.8,"d":73.5},{"t":33.2,"d":86.9},{"t":33.6,"d":70.8},{"t":34.0,"d":81.7},{"t":34.4,"d":68.6},{"t":34.8,"d":76.3},{"t":35.2,"d":88.8},{"t":35.6,"d":71.0},{"t":36.0,"d":83.3},{"t":36.4,"d":66.3},{"t":36.8,"d":78.1},{"t":37.2,"d":73.8},{"t":37.6,"d":85.9},{"t":38.0,"d":69.1},{"t":38.4,"d":80.6},{"t":38.8,"d":75.5},{"t":39.2,"d":89.6},{"t":39.6,"d":67.6},{"t":40.0,"d":82.1},{"t":40.4,"d":72.4},{"t":40.8,"d":77.0},{"t":41.2,"d":68.4},{"t":41.6,"d":86.2},{"t":42.0,"d":74.3},{"t":42.4,"d":80.0},{"t":42.8,"d":67.0},{"t":43.2,"d":91.0},{"t":43.6,"d":71.5},{"t":44.0,"d":78.9},{"t":44.5,"d":83.8},{"t":45.0,"d":69.6},{"t":45.6,"d":75.9},{"t":46.2,"d":88.0},{"t":46.8,"d":72.7},{"t":47.4,"d":66.7},{"t":48.0,"d":81.2},{"t":48.7,"d":70.3},{"t":49.4,"d":85.4},{"t":50.1,"d":76.4},{"t":51.0,"d":68.0},{"t":17.0,"d":95.2},{"t":19.2,"d":99.6},{"t":20.5,"d":93.8},{"t":21.7,"d":102.5},{"t":18.4,"d":106.1},{"t":36.2,"d":107.4},{"t":38.6,"d":108.9},{"t":41.5,"d":106.8},{"t":44.2,"d":108.2},{"t":46.9,"d":107.5},{"t":49.0,"d":105.7},{"t":51.2,"d":104.0},{"t":43.7,"d":88.9},{"t":47.7,"d":93.6},{"t":50.6,"d":91.5},
{"t":14.9,"d":75.5},{"t":15.6,"d":84.2},{"t":16.1,"d":71.0},{"t":16.6,"d":78.3},{"t":17.1,"d":67.9},{"t":17.6,"d":88.4},{"t":18.0,"d":73.1},{"t":18.8,"d":81.7},{"t":19.3,"d":69.2},{"t":19.8,"d":76.5},{"t":20.1,"d":85.1},{"t":20.6,"d":71.9},{"t":21.0,"d":79.6},{"t":21.4,"d":66.9},{"t":21.9,"d":90.6},{"t":22.2,"d":74.4},{"t":23.0,"d":82.8},{"t":23.4,"d":69.5},{"t":23.8,"d":87.0},{"t":24.2,"d":77.2},{"t":24.6,"d":70.7},{"t":25.0,"d":81.0},{"t":25.4,"d":92.3},{"t":26.2,"d":73.2},{"t":26.6,"d":88.0},{"t":27.4,"d":69.0},{"t":28.2,"d":83.9},{"t":29.0,"d":72.5},{"t":29.8,"d":78.3},{"t":31.4,"d":88.0},{"t":32.6,"d":70.1},{"t":33.9,"d":77.9},{"t":35.4,"d":73.0},{"t":37.0,"d":81.6},{"t":38.2,"d":90.2},{"t":39.8,"d":71.3},{"t":41.0,"d":84.0},{"t":42.6,"d":76.6},
{"t":15.5,"d":66.2},{"t":18.9,"d":65.8},{"t":22.7,"d":66.6},{"t":26.9,"d":65.9},{"t":30.6,"d":66.4},{"t":34.2,"d":65.7},{"t":38.3,"d":66.3},{"t":41.9,"d":66.0},{"t":45.8,"d":65.6},{"t":49.8,"d":66.5},{"t":52.3,"d":66.1},{"t":55.4,"d":65.9},
{"t":48.2,"d":224.9},{"t":48.5,"d":222.0},{"t":67.3,"d":226.5},{"t":19.5,"d":190.0},{"t":22.0,"d":190.0},{"t":22.4,"d":180.3},{"t":29.6,"d":183.4},{"t":32.4,"d":183.8},{"t":34.4,"d":178.5},{"t":41.2,"d":187.1},{"t":41.9,"d":202.8},{"t":45.4,"d":199.0},{"t":20.6,"d":164.7},{"t":47.2,"d":164.0},{"t":81.8,"d":148.5},{"t":59.1,"d":119.6},{"t":60.5,"d":109.8},{"t":57.3,"d":104.8},{"t":70.0,"d":100.6},{"t":73.5,"d":101.5},{"t":95.0,"d":102.8},{"t":66.8,"d":88.7},{"t":66.5,"d":76.7},{"t":68.8,"d":73.9},{"t":72.1,"d":76.7},{"t":68.8,"d":69.3},{"t":95.7,"d":70.6},{"t":89.2,"d":69.7},{"t":54.6,"d":81.3},{"t":54.0,"d":86.8},{"t":53.5,"d":70.6},{"t":59.3,"d":66.6},{"t":62.3,"d":71.5},{"t":64.6,"d":76.7},{"t":74.8,"d":65.6},{"t":68.0,"d":65.6},{"t":73.8,"d":65.8},{"t":92.0,"d":65.6},{"t":87.7,"d":65.2},{"t":16.3,"d":123.6},{"t":17.9,"d":131.0},{"t":19.2,"d":138.3},{"t":24.9,"d":153.1},{"t":23.9,"d":141.0},{"t":22.4,"d":131.9},{"t":14.5,"d":106.0},{"t":12.5,"d":68.4},{"t":52.0,"d":112.0},{"t":50.4,"d":120.8},{"t":53.2,"d":95.3}
]
},
"layer":[
{"data":{"name":"excluded"},
"mark":{"type":"circle","size":16,"opacity":1},
"encoding":{
"x":{"field":"t","type":"quantitative","scale":{"domain":[-1.4,102.9],"range":[96.5,445],"nice":false,"zero":false},
"axis":{"orient":"bottom","offset":-265,"values":[0,20,40,60,80,100],"labelExpr":"datum.value == 0 || datum.value == 100 ? datum.label : ''","labelPadding":10,"title":"Transit Time (Δt, us)","titlePadding":0,"titleX":262.5}},
"y":{"field":"d","type":"quantitative","scale":{"domain":[28.3,227.2],"range":[385,25],"nice":false,"zero":false},
"axis":{"orient":"left","offset":-96.5,"values":[50,100,150,200],"labelPadding":8,"title":"Diameter (nm)","titlePadding":6}},
"color":{"datum":"Excluded Events","scale":{"domain":["Excluded Events","Included Events"],"range":["#3953a4","#e41f26"]},
"legend":{"orient":"none","legendX":293,"legendY":38,"title":null,"symbolType":"circle","symbolSize":170,"symbolStrokeWidth":0,"symbolOpacity":1,"labelFont":"Open Sans","labelFontSize":12.5,"labelColor":"#333333","labelOffset":15,"strokeColor":"#333333","fillColor":"white","padding":4,"cornerRadius":2,"rowPadding":4,"symbolOffset":5}}
}},
{"data":{"name":"included"},
"mark":{"type":"circle","size":12,"opacity":1},
"encoding":{
"x":{"field":"t","type":"quantitative","scale":{"domain":[-1.4,102.9],"range":[96.5,445],"nice":false,"zero":false},
"axis":{"orient":"top","offset":-25,"values":[0,20,40,60,80,100],"labels":false,"title":null}},
"y":{"field":"d","type":"quantitative","scale":{"domain":[28.3,227.2],"range":[385,25],"nice":false,"zero":false},
"axis":{"orient":"right","offset":-35,"values":[50,100,150,200],"labels":false,"title":null}},
"color":{"datum":"Included Events"}
}}
],
"resolve":{"axis":{"x":"independent","y":"independent"}}
}
